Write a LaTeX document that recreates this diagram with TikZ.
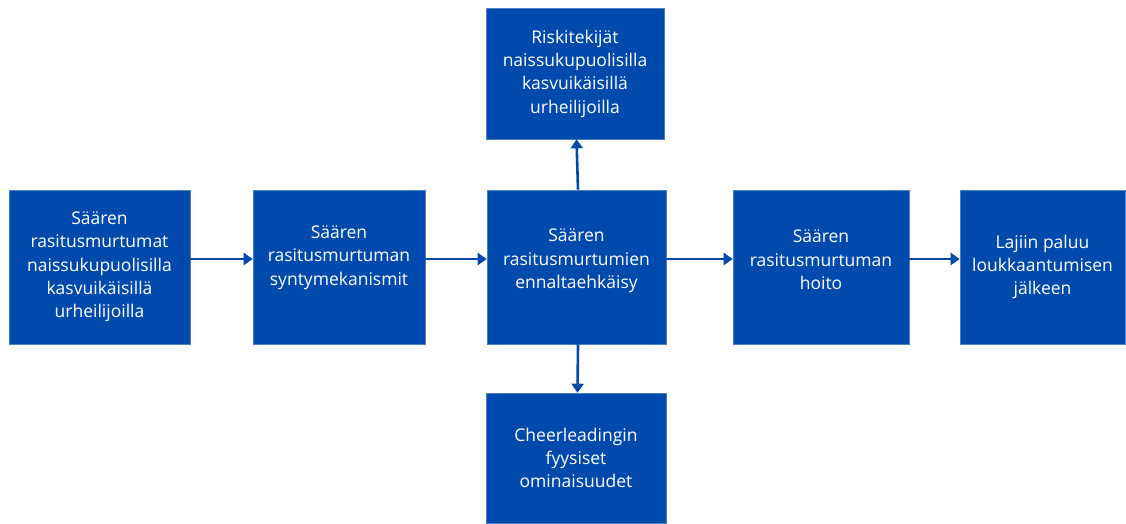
\documentclass[tikz,border=0pt]{standalone}
\usepackage{fontspec}
\setmainfont{Open Sans}
\usetikzlibrary{arrows.meta}
\definecolor{boxblue}{RGB}{0,74,173}
\begin{document}
\begin{tikzpicture}[x=1pt,y=-1pt,
    topicbox/.style={fill=boxblue,draw=boxblue!70!white,line width=0.6pt,text=white,align=center,
      font=\fontsize{17.5}{23.3}\selectfont,inner sep=0pt,minimum height=154pt},
    flow/.style={draw=boxblue,line width=2.6pt,-{Triangle[length=9pt,width=12pt]}}]
  \useasboundingbox (0,0) rectangle (1126,523);
  % main row
  \node[topicbox,minimum width=181pt] (fractures) at (99.5,267) {Säären\\rasitusmurtumat\\naissukupuolisilla\\kasvuikäisillä\\urheilijoilla};
  \node[topicbox,minimum width=172pt] (mechanism) at (339,267) {Säären\\rasitusmurtuman\\syntymekanismit\\[0pt]};
  \node[topicbox,minimum width=179pt] (prevention) at (576.5,267) {Säären\\rasitusmurtumien\\ennaltaehkäisy\\[-7pt]};
  \node[topicbox,minimum width=176pt] (treatment) at (821,267) {Säären\\rasitusmurtuman\\hoito\\[-9pt]};
  \node[topicbox,minimum width=165pt] (return) at (1042.5,267) {Lajiin paluu\\loukkaantumisen\\jälkeen};
  % above and below
  \node[topicbox,minimum width=178pt,minimum height=131pt] (risks) at (575,73.5) {Riskitekijät\\naissukupuolisilla\\kasvuikäisillä\\urheilijoilla};
  \node[topicbox,minimum width=180pt,minimum height=130pt] (cheer) at (576,458) {Cheerleadingin\\fyysiset\\ominaisuudet};
  % arrows
  \draw[flow] ([yshift=8pt]fractures.east) -- ([yshift=8pt]mechanism.west);
  \draw[flow] ([yshift=8pt]mechanism.east) -- ([yshift=8pt]prevention.west);
  \draw[flow] ([yshift=8pt]prevention.east) -- ([yshift=8pt]treatment.west);
  \draw[flow] ([yshift=8pt]treatment.east) -- ([yshift=8pt]return.west);
  \draw[flow] ([xshift=1.5pt]prevention.north) -- ([xshift=1.5pt]risks.south);
  \draw[flow] ([xshift=1.5pt]prevention.south) -- ([xshift=1.5pt]cheer.north);
\end{tikzpicture}
\end{document}
